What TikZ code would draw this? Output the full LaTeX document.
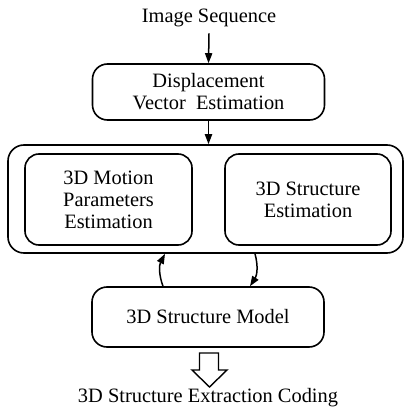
\documentclass[tikz,border=0pt]{standalone}
\usepackage{fontspec}
\setmainfont{Liberation Serif}
\usetikzlibrary{arrows.meta}

\tikzset{
  blk/.style={draw, line width=0.8pt, rounded corners=7.5pt, align=center, inner sep=0pt},
  lbl/.style={align=center, inner sep=0pt},
  flow/.style={line width=0.75pt, -{Triangle[length=5pt,width=3.6pt]}}
}

\begin{document}
\begin{tikzpicture}[x=0.5pt,y=-0.5pt,font=\fontsize{10.2}{11}\selectfont]
\useasboundingbox (0,0) rectangle (404,417);
%top
\node[lbl] (seq) at (209,18) {Image Sequence};
\node[blk, minimum width=116pt, minimum height=28pt] (disp) at (208.5,92) {Displacement\\Vector\ \ Estimation};
%estimation boxes
\node[blk, rounded corners=8pt, minimum width=197.5pt, minimum height=54pt] (est) at (205.5,199) {};
\node[blk, rounded corners=7pt, minimum width=83.5pt, minimum height=45.5pt] (motion) at (108.5,199.5) {3D Motion\\Parameters\\Estimation};
\node[blk, rounded corners=7pt, minimum width=83pt, minimum height=45.5pt] (struct) at (308,199.5) {3D Structure\\Estimation};
%model
\node[blk, minimum width=116pt, minimum height=30pt] (model) at (208,317) {3D Structure Model};
\node[lbl] (coding) at (208,398) {3D Structure Extraction Coding};
%arrows
\draw[flow] ([yshift=-3pt]seq.south) -- (disp.north);
\draw[flow] (disp.south) -- (disp.south |- est.north);
\draw[flow] ([xshift=-22.5pt]model.north) to[bend left=24] ([xshift=-20.25pt]est.south);
\draw[flow] ([xshift=24.75pt]est.south) to[bend left=24] ([xshift=21pt]model.north);
%hollow arrow
\draw[line width=0.7pt, fill=white] (199.5,353) -- (218.5,353) -- (218.5,370) -- (227,370) -- (209.5,387) -- (192,370) -- (199.5,370) -- cycle;
\end{tikzpicture}
\end{document}
